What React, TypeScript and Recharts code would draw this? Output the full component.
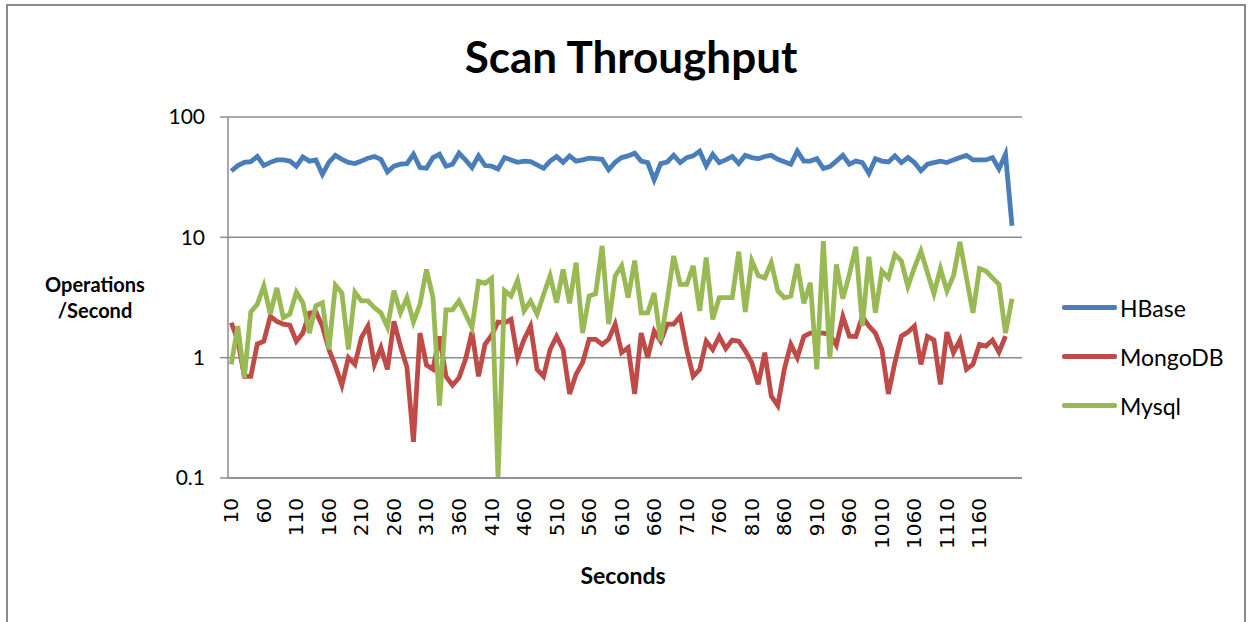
import { CartesianGrid, Legend, Line, LineChart, XAxis, YAxis } from 'recharts'

// seconds on the x axis, one row every 10 s
const seconds = Array.from({ length: 121 }, (_, i) => 10 + i * 10)
const xTicks = [10, 60, 110, 160, 210, 260, 310, 360, 410, 460, 510, 560, 610, 660, 710, 760, 810, 860, 910, 960, 1010, 1060, 1110, 1160]
const yTicks = [0.1, 1, 10, 100]

const hbase = [
	35.6, 39.5, 42, 42.5, 47, 39.5, 42, 44, 44, 43, 39, 46.5, 43, 44, 33.4, 42, 48, 44.5, 42, 41,
	43, 45.5, 47, 44.5, 35, 39, 40.5, 41, 49, 38, 37.5, 46, 49, 39, 40.5, 50, 44, 38, 47.5, 39.5,
	39, 37, 46, 44, 42, 43, 42.5, 40, 37.5, 43, 47, 42, 47.5, 43, 44, 45.5, 45, 44.5, 36.5, 42,
	46, 47.5, 50, 43, 41.8, 30, 41, 42.3, 48, 41.8, 46, 47.5, 52, 39.3, 49, 41.8, 44, 47, 41, 48,
	46, 45, 47, 48, 44.5, 42.5, 40.5, 52, 43, 43, 45, 37.4, 38.8, 43, 48, 40.5, 43, 41.8, 34, 45,
	43, 42.3, 47.5, 41.8, 46, 41.8, 35.8, 40.5, 41.8, 43, 41.8, 44, 46, 48, 44, 44, 44, 46, 37, 49,
	12.5,
]

const mongodb = [
	1.95, 1.4, 0.7, 0.7, 1.3, 1.37, 2.2, 2.0, 1.9, 1.86, 1.37, 1.6, 2.35, 2.4, 1.83, 1.17, 0.85, 0.59, 1.0, 0.88,
	1.47, 1.83, 0.88, 1.21, 0.8, 2.0, 1.25, 0.83, 0.2, 1.6, 0.87, 0.8, 1.5, 0.7, 0.59, 0.68, 0.97, 1.63, 0.7, 1.29,
	1.53, 1.98, 1.95, 2.08, 1.0, 1.42, 1.83, 0.8, 0.7, 1.17, 1.5, 1.17, 0.5, 0.73, 0.91, 1.42, 1.42, 1.29, 1.42, 1.9,
	1.1, 1.21, 0.5, 1.6, 1.0, 1.66, 1.37, 1.9, 1.9, 2.2, 1.17, 0.7, 0.8, 1.37, 1.17, 1.5, 1.19, 1.4, 1.37, 1.14,
	0.91, 0.6, 1.1, 0.48, 0.4, 0.8, 1.29, 1.0, 1.5, 1.6, 1.6, 1.6, 1.56, 1.27, 2.19, 1.51, 1.5, 2.19, 1.83, 1.6,
	1.17, 0.5, 0.91, 1.51, 1.63, 1.83, 0.88, 1.5, 1.4, 0.6, 1.63, 1.1, 1.4, 0.8, 0.88, 1.29, 1.25, 1.4, 1.11, 1.51,
	null,
]

const mysql = [
	0.88, 1.83, 0.68, 2.4, 2.78, 3.95, 2.3, 3.8, 2.15, 2.3, 3.5, 2.86, 1.6, 2.7, 2.86, 1.17, 4.0, 3.45, 1.17, 3.5,
	2.96, 2.96, 2.6, 2.36, 1.8, 3.6, 2.36, 3.15, 1.98, 2.78, 5.4, 3.15, 0.4, 2.5, 2.5, 2.96, 2.3, 1.77, 4.3, 4.15,
	4.55, 0.1, 3.6, 3.25, 4.4, 2.45, 2.96, 2.3, 3.35, 4.8, 2.86, 5.4, 2.83, 6.16, 1.6, 3.25, 3.4, 8.5, 1.9, 4.77,
	5.8, 3.15, 6.4, 2.36, 2.36, 3.45, 1.37, 3.0, 7.0, 4.06, 4.06, 5.8, 2.45, 6.8, 2.08, 3.15, 3.15, 3.15, 7.6, 2.4,
	6.4, 4.8, 4.6, 6.16, 3.6, 3.15, 3.25, 6.0, 2.83, 4.2, 0.8, 9.3, 0.98, 5.96, 3.09, 4.93, 8.36, 1.83, 6.9, 2.36,
	5.25, 4.6, 7.2, 6.35, 3.9, 5.6, 7.7, 5.1, 3.4, 5.5, 3.58, 4.77, 9.15, 4.6, 2.36, 5.5, 5.25, 4.6, 4.07, 1.6,
	3.09,
]

const series = [
	{ name: 'HBase', color: '#4A7EBB', values: hbase },
	{ name: 'MongoDB', color: '#BE4B48', values: mongodb },
	{ name: 'Mysql', color: '#98B954', values: mysql },
]

const data = seconds.map((sec, i) => {
	const row: Record<string, number | null> = { sec }
	series.forEach(s => { row[s.name] = s.values[i] })
	return row
})

const GRID = '#8c8c8c'
const FONT = 'Lato, "Open Sans", sans-serif'

const XTick = ({ x, y, payload }: any) => (
	<text
		x={x}
		y={y + 12}
		transform={`rotate(-90, ${x}, ${y + 12})`}
		textAnchor="end"
		dominantBaseline="central"
		fontSize={20}
		fontFamily='"DejaVu Sans", sans-serif'
		fill="#000"
	>
		{payload.value}
	</text>
)

const LegendBox = ({ payload }: any) => (
	<div style={{ fontFamily: FONT }}>
		{(payload || []).map((p: any) => (
			<div key={p.value} style={{ display: 'flex', alignItems: 'center', height: 49 }}>
				<div style={{ width: 55, height: 5, background: p.color, borderRadius: 2, marginRight: 3 }} />
				<span style={{ fontSize: 23, color: '#000' }}>{p.value}</span>
			</div>
		))}
	</div>
)

export default function App() {
	return (
		<div style={{ position: 'absolute', left: 0, top: 0, width: 1252, height: 622, background: '#fff', overflow: 'hidden' }}>
			<div style={{ position: 'absolute', left: 6, top: 4, width: 1236, height: 700, border: '2px solid #8a8a8a' }} />
			<LineChart width={1252} height={622} data={data} margin={{ top: 117, right: 230, bottom: 84, left: 0 }}>
				<CartesianGrid vertical={false} stroke={GRID} strokeWidth={1.5} />
				<XAxis
					dataKey="sec"
					type="category"
					ticks={xTicks}
					interval={0}
					height={60}
					padding={{ left: 3.3, right: 10 }}
					tick={<XTick />}
					tickLine={false}
					axisLine={{ stroke: GRID, strokeWidth: 1.5 }}
				/>
				<YAxis
					scale="log"
					domain={[0.1, 100]}
					ticks={yTicks}
					allowDataOverflow
					width={228}
					tickSize={8}
					tickMargin={15}
					tickFormatter={(v: number) => String(v)}
					tick={{ fontSize: 21, fill: '#000', fontFamily: FONT }}
					tickLine={{ stroke: GRID, strokeWidth: 1.5 }}
					axisLine={{ stroke: GRID, strokeWidth: 1.5 }}
				/>
				{series.map(s => (
					<Line
						key={s.name}
						dataKey={s.name}
						name={s.name}
						type="linear"
						stroke={s.color}
						strokeWidth={4.8}
						dot={false}
						isAnimationActive={false}
					/>
				))}
				<Legend
					layout="vertical"
					align="center"
					verticalAlign="middle"
					content={<LegendBox />}
					wrapperStyle={{ left: 1062, top: 283, width: 190 }}
				/>
			</LineChart>
			<svg width={1252} height={622} style={{ position: 'absolute', left: 0, top: 0, pointerEvents: 'none' }}>
				<text x={631} y={73} textAnchor="middle" fontSize={44} fontWeight="bold" fontFamily={FONT} fill="#000">
					Scan Throughput
				</text>
				<text x={623} y={584} textAnchor="middle" fontSize={23} fontWeight="bold" fontFamily={FONT} fill="#000">
					Seconds
				</text>
				<text x={95} y={292} textAnchor="middle" fontSize={20} fontWeight="bold" fontFamily={FONT} fill="#000">
					Operations
				</text>
				<text x={95} y={318} textAnchor="middle" fontSize={20} fontWeight="bold" fontFamily={FONT} fill="#000">
					/Second
				</text>
			</svg>
		</div>
	)
}
